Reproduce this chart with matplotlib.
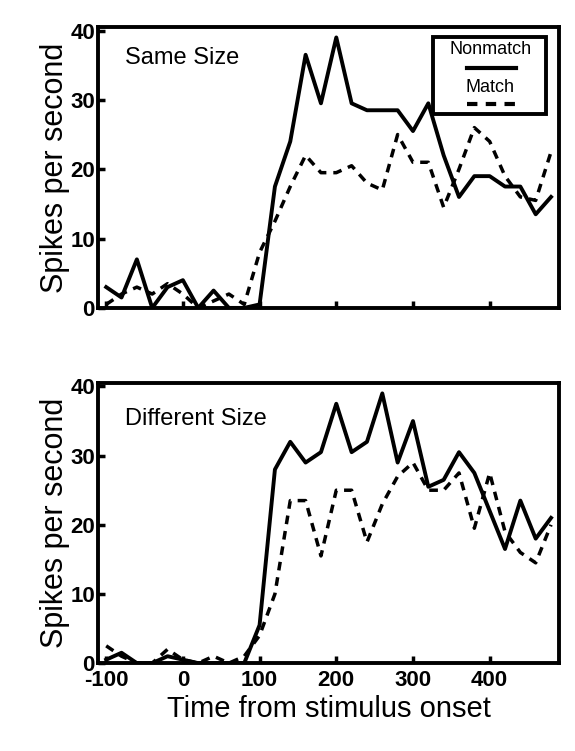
import matplotlib
matplotlib.use("Agg")
import matplotlib.pyplot as plt
from matplotlib.patches import Rectangle

plt.rcParams['font.family'] = ['Liberation Sans', 'DejaVu Sans']
plt.rcParams['axes.unicode_minus'] = False

time = list(range(-100, 481, 20))
same_nonmatch = [3, 1.5, 7, 0, 3, 4, 0, 2.5, 0, 0, 0.5, 17.5, 24, 36.5, 29.5, 39, 29.5, 28.5, 28.5, 28.5,
                 25.5, 29.5, 22, 16, 19, 19, 17.5, 17.5, 13.5, 16]
same_match = [0.5, 2, 3, 2, 3.5, 2, 0, 1, 2, 0.5, 8, 12.5, 17.5, 22, 19.5, 19.5, 20.5, 18, 17, 25,
              21, 21, 14.5, 20, 26, 24, 19, 16, 15.5, 22.5]
diff_nonmatch = [0.5, 1.5, 0, 0, 1, 0.5, 0, 0, 0, 0, 5.5, 28, 32, 29, 30.5, 37.5, 30.5, 32, 39, 29,
                 35, 25.5, 26.5, 30.5, 27.5, 22, 16.5, 23.5, 18, 21]
diff_match = [2.5, 1, 0, 0, 2, 0.5, 0, 1, 0, 1, 4, 10, 23.5, 23.5, 15.5, 25, 25, 17.5, 23, 27,
              29, 25, 25, 27.5, 19.5, 27.5, 19, 16, 14.5, 20]
xticks = [-100, 0, 100, 200, 300, 400]
yticks = [0, 10, 20, 30, 40]

fig = plt.figure(figsize=(5.75, 7.51), dpi=100)
ax1 = fig.add_axes([0.170, 0.590, 0.803, 0.374])
ax2 = fig.add_axes([0.170, 0.117, 0.803, 0.373])

for ax, nm, m, title in [(ax1, same_nonmatch, same_match, 'Same Size'),
                         (ax2, diff_nonmatch, diff_match, 'Different Size')]:
    ax.plot(time, nm, color='black', lw=2.8)
    ax.plot(time, m, color='black', lw=2.5, ls=(0, (2.5, 2)))
    ax.set_xlim(-111, 491)
    ax.set_ylim(0, 40.5)
    ax.set_xticks(xticks)
    ax.set_yticks(yticks)
    ax.tick_params(direction='in', length=5, width=2.5, labelsize=16, pad=2)
    ax.tick_params(axis='x', pad=5)
    for lab in ax.get_xticklabels() + ax.get_yticklabels():
        lab.set_fontweight('bold')
    for s in ax.spines.values():
        s.set_linewidth(2.8)
    ax.set_ylabel('Spikes per second', fontsize=22, labelpad=0)
    ax.text(0.06, 0.93 if ax is ax1 else 0.91, title, transform=ax.transAxes,
            fontsize=17, va='top', ha='left')

ax1.tick_params(labelbottom=False)
ax2.set_xlabel('Time from stimulus onset', fontsize=21, labelpad=3)

ax1.add_patch(Rectangle((0.725, 0.69), 0.245, 0.275, transform=ax1.transAxes,
                        fill=False, lw=2.8, color='black', zorder=5))
ax1.text(0.85, 0.92, 'Nonmatch', transform=ax1.transAxes, ha='center', va='center', fontsize=13)
ax1.plot([0.80, 0.905], [0.855, 0.855], transform=ax1.transAxes, color='black', lw=3)
ax1.text(0.85, 0.785, 'Match', transform=ax1.transAxes, ha='center', va='center', fontsize=13)
ax1.plot([0.80, 0.905], [0.725, 0.725], transform=ax1.transAxes, color='black', lw=3, ls=(0, (2.5, 2)))

fig.savefig('out.png', dpi=100)
